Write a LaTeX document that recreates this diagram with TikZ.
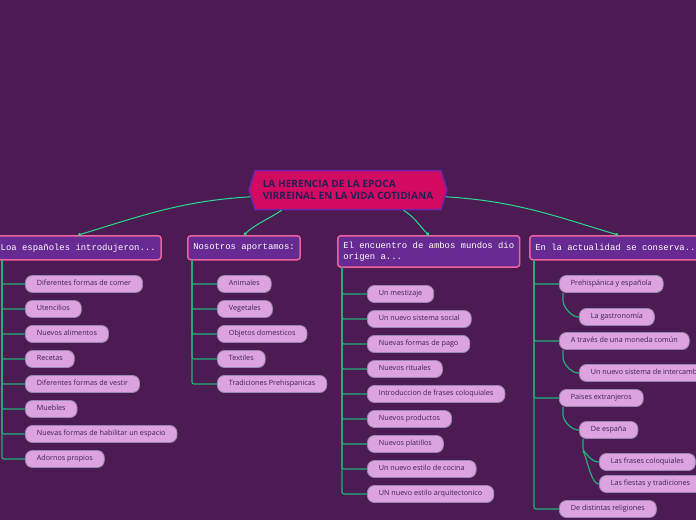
\documentclass[tikz,border=0pt]{standalone}
\usepackage{fontspec}
\setmainfont{Open Sans}
\newfontfamily\monofont{Liberation Mono}
\usepackage{tikz}
\usetikzlibrary{shapes.symbols,arrows.meta,positioning}
\definecolor{bgpurple}{RGB}{76,27,84}
\definecolor{rootfill}{RGB}{211,10,97}
\definecolor{rootedge}{RGB}{110,35,170}
\definecolor{roottext}{RGB}{35,30,85}
\definecolor{headfill}{RGB}{103,42,146}
\definecolor{headedge}{RGB}{238,98,160}
\definecolor{leaffill}{RGB}{221,163,224}
\definecolor{leafedge}{RGB}{150,135,175}
\definecolor{leaftext}{RGB}{60,35,80}
\definecolor{linkcolor}{RGB}{40,220,140}
\definecolor{twigcolor}{RGB}{35,175,120}

\begin{document}
\begin{tikzpicture}[x=1pt, y=-1pt,
  root/.style={signal, signal to=west and east, signal pointer angle=145,
    draw=rootedge, line width=1.5pt, fill=rootfill, text=roottext,
    font=\bfseries\fontsize{10.1}{12}\selectfont, align=left,
    minimum width=198pt, minimum height=39pt, inner sep=0pt},
  head/.style={draw=headedge, line width=1.5pt, fill=headfill, rounded corners=3pt,
    text=white, font=\monofont\fontsize{8.9}{11}\selectfont, align=left,
    inner xsep=5.5pt, inner ysep=6pt, minimum height=24pt, anchor=north west},
  leaf/.style={draw=leafedge, line width=0.8pt, fill=leaffill, rounded corners=7pt,
    text=leaftext, font=\fontsize{7.2}{9}\selectfont, text height=5.4pt, text depth=1.6pt,
    inner xsep=11.5pt, inner ysep=0pt, minimum height=17pt, anchor=west},
  link/.style={draw=linkcolor, line width=1pt, -{Circle[length=3pt]}},
  twig/.style={draw=twigcolor, line width=1.2pt, rounded corners=2pt}]

  \fill[bgpurple] (0,0) rectangle (696,520);
  \clip (0,0) rectangle (696,520);

  \node[root] (root) at (348,190) {LA HERENCIA DE LA EPOCA\\VIRREINAL EN LA VIDA COTIDIANA};

  \node[head] (h1) at (-5.5,235) {Loa españoles introdujeron...};
  \node[head] (h2) at (187,235) {Nosotros aportamos:};
  \node[head] (h3) at (337,235) {El encuentro de ambos mundos dio\\origen a...};
  \node[head] (h4) at (529,235) {En la actualidad se conserva...};

  \draw[link] (root.184) .. controls +(-70,4) and +(60,-18) .. (h1.north);
  \draw[link] (root.197) .. controls +(-12,8) and +(10,-10) .. (h2.north);
  \draw[link] (root.340) .. controls +(12,8) and +(-10,-10) .. (h3.north);
  \draw[link] (root.356) .. controls +(70,4) and +(-60,-18) .. (h4.north);

  % los espanoles
  \node[leaf] (a1) at (25,284) {Diferentes formas de comer};
  \node[leaf] (a2) at (25,309) {Utencilios};
  \node[leaf] (a3) at (25,334) {Nuevos alimentos};
  \node[leaf] (a4) at (25,359) {Recetas};
  \node[leaf] (a5) at (25,384) {Diferentes formas de vestir};
  \node[leaf] (a6) at (25,409) {Muebles};
  \node[leaf] (a7) at (25,434) {Nuevas formas de habilitar un espacio};
  \node[leaf] (a8) at (25,459) {Adornos propios};

  % nosotros
  \node[leaf] (n1) at (217,284) {Animales};
  \node[leaf] (n2) at (217,309) {Vegetales};
  \node[leaf] (n3) at (217,334) {Objetos domesticos};
  \node[leaf] (n4) at (217,359) {Textiles};
  \node[leaf] (n5) at (217,384) {Tradiciones Prehispanicas};

  % encuentro
  \node[leaf] (e1) at (367,294) {Un mestizaje};
  \node[leaf] (e2) at (367,319) {Un nuevo sistema social};
  \node[leaf] (e3) at (367,344) {Nuevas formas de pago};
  \node[leaf] (e4) at (367,369) {Nuevos rituales};
  \node[leaf] (e5) at (367,394) {Introduccion de frases coloquiales};
  \node[leaf] (e6) at (367,419) {Nuevos productos};
  \node[leaf] (e7) at (367,444) {Nuevos platillos};
  \node[leaf] (e8) at (367,469) {Un nuevo estilo de cocina};
  \node[leaf] (e9) at (367,494) {UN nuevo estilo arquitectonico};

  % actualidad
  \node[leaf] (b1) at (559,284) {Prehispánica y española};
  \node[leaf] (b1a) at (579,317) {La gastronomía};
  \node[leaf] (b2) at (559,341) {A través de una moneda común};
  \node[leaf] (b2a) at (579,373) {Un nuevo sistema de intercambio};
  \node[leaf] (b3) at (559,398) {Paises extranjeros};
  \node[leaf] (b3a) at (579,430) {De españa};
  \node[leaf] (b3a1) at (599,462) {Las frases coloquiales};
  \node[leaf] (b3a2) at (599,484) {Las fiestas y tradiciones};
  \node[leaf] (b4) at (559,509) {De distintas religiones};

  \coordinate (t1) at ([xshift=7.5pt]h1.south west);
  \coordinate (t2) at ([xshift=5pt]h2.south west);
  \coordinate (t3) at ([xshift=5pt]h3.south west);
  \coordinate (t4) at ([xshift=5pt]h4.south west);

  \draw[twig] (t1) |- (a1.west);
  \draw[twig] (t1) |- (a2.west);
  \draw[twig] (t1) |- (a3.west);
  \draw[twig] (t1) |- (a4.west);
  \draw[twig] (t1) |- (a5.west);
  \draw[twig] (t1) |- (a6.west);
  \draw[twig] (t1) |- (a7.west);
  \draw[twig] (t1) |- (a8.west);

  \draw[twig] (t2) |- (n1.west);
  \draw[twig] (t2) |- (n2.west);
  \draw[twig] (t2) |- (n3.west);
  \draw[twig] (t2) |- (n4.west);
  \draw[twig] (t2) |- (n5.west);

  \draw[twig] (t3) |- (e1.west);
  \draw[twig] (t3) |- (e2.west);
  \draw[twig] (t3) |- (e3.west);
  \draw[twig] (t3) |- (e4.west);
  \draw[twig] (t3) |- (e5.west);
  \draw[twig] (t3) |- (e6.west);
  \draw[twig] (t3) |- (e7.west);
  \draw[twig] (t3) |- (e8.west);
  \draw[twig] (t3) |- (e9.west);

  \draw[twig] (t4) |- (b1.west);
  \draw[twig] (t4) |- (b2.west);
  \draw[twig] (t4) |- (b3.west);
  \draw[twig] (t4) |- (b4.west);

  \draw[twig] ([xshift=4pt]b1.south west) -- ++(0,10) .. controls +(3,6) and +(-8,0) .. (b1a.west);
  \draw[twig] ([xshift=4pt]b2.south west) -- ++(0,10) .. controls +(3,6) and +(-8,0) .. (b2a.west);
  \draw[twig] ([xshift=4pt]b3.south west) -- ++(0,10) .. controls +(3,6) and +(-8,0) .. (b3a.west);
  \draw[twig] ([xshift=4pt]b3a.south west) -- ++(0,12) coordinate (j) .. controls +(4,3) and +(-8,0) .. (b3a1.west);
  \draw[twig] (j) .. controls +(5,10) and +(-8,0) .. (b3a2.west);
\end{tikzpicture}
\end{document}
